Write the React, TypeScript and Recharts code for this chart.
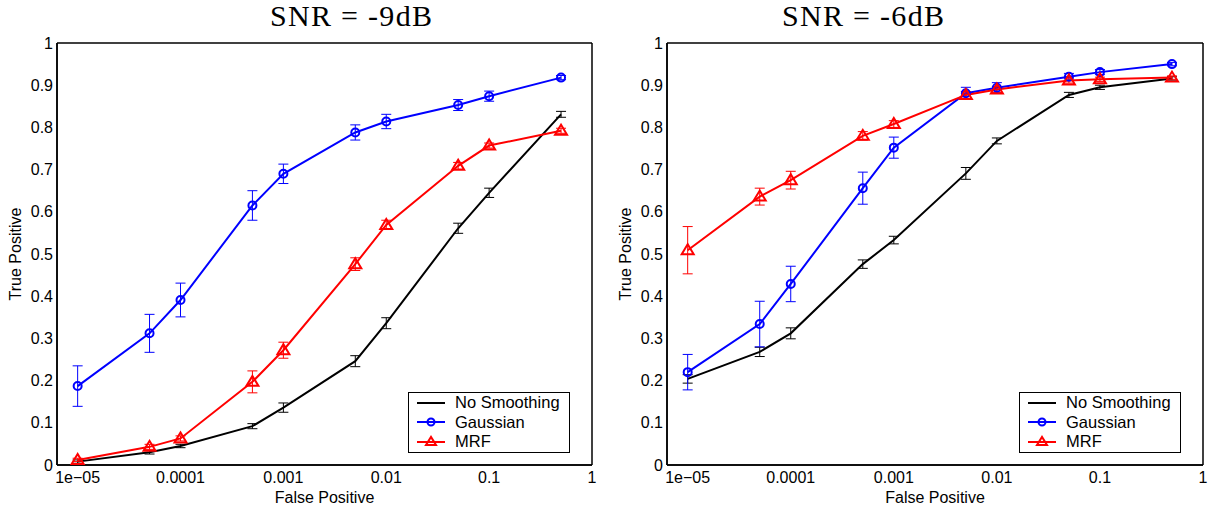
import React from 'react'
import { LineChart, Line, XAxis, YAxis, ErrorBar, Legend } from 'recharts'

// false positive rates shared by both panels
const falsePositive = [1e-5, 5e-5, 1e-4, 5e-4, 1e-3, 5e-3, 1e-2, 5e-2, 0.1, 0.5]

// SNR = -9dB
const noSmoothing9 = [0.008, 0.030, 0.045, 0.092, 0.136, 0.246, 0.336, 0.561, 0.645, 0.831]
const noSmoothing9Err = [0.004, 0.004, 0.004, 0.006, 0.011, 0.013, 0.013, 0.012, 0.011, 0.007]
const gaussian9 = [0.187, 0.312, 0.391, 0.615, 0.690, 0.788, 0.814, 0.853, 0.874, 0.918]
const gaussian9Err = [0.048, 0.045, 0.040, 0.035, 0.023, 0.018, 0.017, 0.013, 0.012, 0.005]
const mrf9 = [0.012, 0.043, 0.063, 0.197, 0.272, 0.476, 0.569, 0.709, 0.757, 0.792]
const mrf9Err = [0.004, 0.006, 0.006, 0.026, 0.019, 0.015, 0.011, 0.008, 0.006, 0.006]

// SNR = -6dB
const noSmoothing6 = [0.204, 0.268, 0.312, 0.476, 0.533, 0.691, 0.768, 0.877, 0.895, 0.916]
const noSmoothing6Err = [0.010, 0.011, 0.013, 0.010, 0.009, 0.014, 0.007, 0.006, 0.005, 0.004]
const gaussian6 = [0.220, 0.334, 0.429, 0.656, 0.752, 0.881, 0.894, 0.920, 0.931, 0.950]
const gaussian6Err = [0.042, 0.054, 0.042, 0.038, 0.025, 0.014, 0.012, 0.008, 0.006, 0.004]
const mrf6 = [0.509, 0.636, 0.675, 0.780, 0.808, 0.877, 0.890, 0.911, 0.914, 0.918]
const mrf6Err = [0.056, 0.020, 0.021, 0.010, 0.008, 0.008, 0.007, 0.006, 0.005, 0.004]

const xTicks = [1e-5, 1e-4, 1e-3, 1e-2, 0.1, 1]
const xTickLabels = ['1e\u221205', '0.0001', '0.001', '0.01', '0.1', '1']
const yTicks = [0, 0.1, 0.2, 0.3, 0.4, 0.5, 0.6, 0.7, 0.8, 0.9, 1]
const yTickLabels = ['0', '0.1', '0.2', '0.3', '0.4', '0.5', '0.6', '0.7', '0.8', '0.9', '1']
const seriesNames = ['No Smoothing', 'Gaussian', 'MRF']

const xDomain = [6.3e-6, 1]
const sans = '"Liberation Sans", Arial, sans-serif'
const tickStyle = { fontSize: 16, fill: '#000', fontFamily: sans }

const buildRows = (ns: number[], nsErr: number[], g: number[], gErr: number[], m: number[], mErr: number[]) =>
  falsePositive.map((fp, i) => ({
    fp,
    ns: ns[i], nsErr: nsErr[i],
    g: g[i], gErr: gErr[i],
    m: m[i], mErr: mErr[i],
  }))

const CircleDot = (props: any) => {
  const { cx, cy, index } = props
  if (cx == null || cy == null) return null
  return <circle key={`c${index}`} cx={cx} cy={cy} r={4} fill="none" stroke="#0000ff" strokeWidth={2} />
}

const TriangleDot = (props: any) => {
  const { cx, cy, index } = props
  if (cx == null || cy == null) return null
  const d = `M${cx - 6},${cy + 4} L${cx + 6},${cy + 4} L${cx},${cy - 6} Z`
  return <path key={`t${index}`} d={d} fill="none" stroke="#ff0000" strokeWidth={2} strokeLinejoin="miter" />
}

const LegendBox = () => {
  const colors = ['#000', '#0000ff', '#ff0000']
  return (
    <div style={{
      width: 162, height: 61, border: '1px solid #000', background: '#fff',
      boxSizing: 'border-box', fontFamily: sans, fontSize: 16.5, color: '#000',
    }}>
      {seriesNames.map((name, i) => (
        <div key={name} style={{ height: 19.5, display: 'flex', alignItems: 'center' }}>
          <svg width={28} height={14} style={{ marginLeft: 8, marginRight: 10 }}>
            <line x1={0} y1={7} x2={28} y2={7} stroke={colors[i]} strokeWidth={2} />
            {i === 1 && <circle cx={14} cy={7} r={3.5} fill="none" stroke={colors[i]} strokeWidth={2} />}
            {i === 2 && <path d="M9,10 L19,10 L14,2 Z" fill="none" stroke={colors[i]} strokeWidth={2} />}
          </svg>
          <span style={{ lineHeight: '19.5px' }}>{name}</span>
        </div>
      ))}
    </div>
  )
}

const Panel = ({ title, titleLeft, rows, left, width, marginRight }: any) => {
  const plotLeft = 57
  return (
    <div style={{ position: 'absolute', left, top: 0, width, height: 510 }}>
      <div style={{
        position: 'absolute', left: titleLeft, top: 1, whiteSpace: 'nowrap',
        fontFamily: '"Liberation Serif", "DejaVu Serif", serif', fontSize: 30, lineHeight: '30px',
        letterSpacing: 1.3, color: '#000',
      }}>{title}</div>
      <LineChart width={width} height={510} data={rows} margin={{ top: 43, right: marginRight, bottom: 15, left: 0 }}>
        <XAxis
          xAxisId="x" dataKey="fp" type="number" scale="log" domain={xDomain} allowDataOverflow
          ticks={xTicks} tickFormatter={(v: number) => xTickLabels[xTicks.indexOf(v)] ?? String(v)}
          tick={tickStyle} tickLine={false} tickSize={5} tickMargin={2} height={30}
          axisLine={{ stroke: '#000', strokeWidth: 1.5 }} interval={0}
          label={{ value: 'False Positive', position: 'center', dy: 17, style: { fontSize: 16, fill: '#000', fontFamily: sans } }}
        />
        <XAxis
          xAxisId="xb" type="number" scale="log" domain={xDomain} allowDataOverflow orientation="bottom" mirror
          ticks={xTicks} tick={false} tickSize={5} tickLine={{ stroke: '#000' }} axisLine={{ stroke: '#000', strokeWidth: 1.5 }} interval={0}
        />
        <XAxis
          xAxisId="xt" type="number" scale="log" domain={xDomain} allowDataOverflow orientation="top" mirror
          ticks={xTicks} tick={false} tickSize={5} tickLine={{ stroke: '#000' }} axisLine={{ stroke: '#000', strokeWidth: 1.5 }} interval={0}
        />
        <YAxis
          yAxisId="y" type="number" domain={[0, 1]} ticks={yTicks} width={plotLeft}
          tickFormatter={(v: number) => yTickLabels[yTicks.indexOf(v)] ?? String(v)}
          tick={tickStyle} tickLine={false} tickSize={2} tickMargin={2} interval={0}
          axisLine={{ stroke: '#000', strokeWidth: 1.5 }}
          label={{ value: 'True Positive', angle: -90, position: 'center', dx: -13, style: { fontSize: 16, fill: '#000', fontFamily: sans } }}
        />
        <YAxis
          yAxisId="yl" type="number" domain={[0, 1]} ticks={yTicks} orientation="left" mirror
          tick={false} tickSize={5} tickLine={{ stroke: '#000' }} axisLine={{ stroke: '#000', strokeWidth: 1.5 }} interval={0}
        />
        <YAxis
          yAxisId="yr" type="number" domain={[0, 1]} ticks={yTicks} orientation="right" mirror
          tick={false} tickSize={5} tickLine={{ stroke: '#000' }} axisLine={{ stroke: '#000', strokeWidth: 1.5 }} interval={0}
        />
        <Line xAxisId="x" yAxisId="y" dataKey="ns" name={seriesNames[0]} stroke="#000" strokeWidth={2} dot={false} isAnimationActive={false}>
          <ErrorBar dataKey="nsErr" direction="y" width={5} stroke="#000" strokeWidth={1} isAnimationActive={false} />
        </Line>
        <Line xAxisId="x" yAxisId="y" dataKey="g" name={seriesNames[1]} stroke="#0000ff" strokeWidth={2} dot={CircleDot} isAnimationActive={false}>
          <ErrorBar dataKey="gErr" direction="y" width={5} stroke="#0000ff" strokeWidth={1} isAnimationActive={false} />
        </Line>
        <Line xAxisId="x" yAxisId="y" dataKey="m" name={seriesNames[2]} stroke="#ff0000" strokeWidth={2} dot={TriangleDot} isAnimationActive={false}>
          <ErrorBar dataKey="mErr" direction="y" width={5} stroke="#ff0000" strokeWidth={1} isAnimationActive={false} />
        </Line>
        <Legend
          layout="vertical" align="center" verticalAlign="middle"
          content={() => <LegendBox />}
          wrapperStyle={{ left: width - marginRight - 184, top: 392, width: 162 }}
        />
      </LineChart>
    </div>
  )
}

export default function App() {
  const rows9 = buildRows(noSmoothing9, noSmoothing9Err, gaussian9, gaussian9Err, mrf9, mrf9Err)
  const rows6 = buildRows(noSmoothing6, noSmoothing6Err, gaussian6, gaussian6Err, mrf6, mrf6Err)
  return (
    <div style={{ position: 'absolute', left: 0, top: 0, width: 1209, height: 510, background: '#fff' }}>
      <Panel title="SNR = -9dB" titleLeft={270} rows={rows9} left={0} width={605} marginRight={13} />
      <Panel title="SNR = -6dB" titleLeft={172} rows={rows6} left={610} width={599} marginRight={6} />
    </div>
  )
}
